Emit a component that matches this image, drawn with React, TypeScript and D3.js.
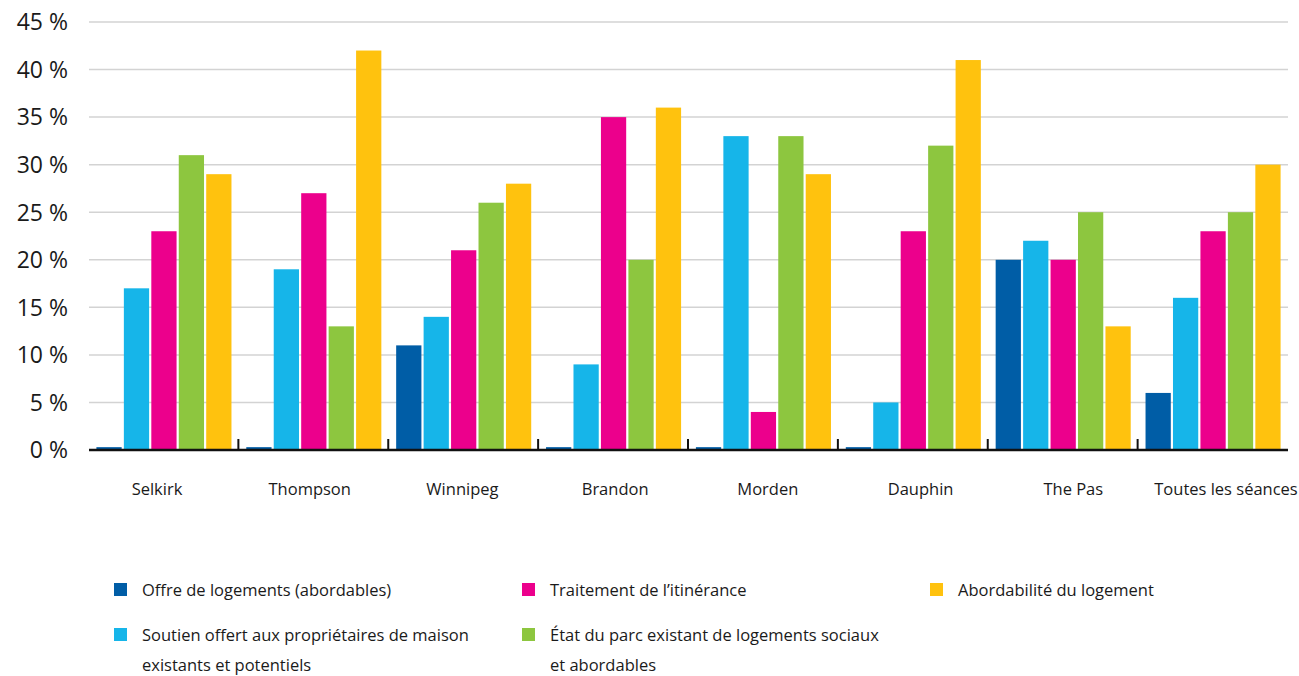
import React from "react";
import * as d3 from "d3";

// Survey results per community: share of mentions for each housing theme (%)
const categories = [
  "Selkirk",
  "Thompson",
  "Winnipeg",
  "Brandon",
  "Morden",
  "Dauphin",
  "The Pas",
  "Toutes les séances",
];

const seriesNames = [
  "Offre de logements (abordables)",
  "Soutien offert aux propriétaires de maison existants et potentiels",
  "Traitement de l’itinérance",
  "État du parc existant de logements sociaux et abordables",
  "Abordabilité du logement",
];

const offre = [0.3, 0.3, 11, 0.3, 0.3, 0.3, 20, 6];
const soutien = [17, 19, 14, 9, 33, 5, 22, 16];
const itinerance = [23, 27, 21, 35, 4, 23, 20, 23];
const etatParc = [31, 13, 26, 20, 33, 32, 25, 25];
const abordabilite = [29, 42, 28, 36, 29, 41, 13, 30];

const seriesValues = [offre, soutien, itinerance, etatParc, abordabilite];
const seriesColors = ["#005da6", "#16b5e9", "#ec008c", "#8dc63f", "#ffc20e"];

const yTicks = [0, 5, 10, 15, 20, 25, 30, 35, 40, 45];

// Legend layout: column/row and wrapped text lines per series
const legendItems = [
  { lines: ["Offre de logements (abordables)"], col: 0, row: 0 },
  { lines: ["Soutien offert aux propriétaires de maison", "existants et potentiels"], col: 0, row: 1 },
  { lines: ["Traitement de l’itinérance"], col: 1, row: 0 },
  { lines: ["État du parc existant de logements sociaux", "et abordables"], col: 1, row: 1 },
  { lines: ["Abordabilité du logement"], col: 2, row: 0 },
];

const W = 1299;
const H = 676;
const margin = { left: 89, right: 11, top: 22, bottom: 226 };
const FONT = "'Open Sans', 'DejaVu Sans', sans-serif";

export default function App() {
  const innerRight = W - margin.right;
  const baseline = H - margin.bottom;

  const x0 = d3
    .scaleBand<string>()
    .domain(categories)
    .range([margin.left, innerRight])
    .paddingInner(0)
    .paddingOuter(0);

  const x1 = d3
    .scaleBand<number>()
    .domain(d3.range(seriesValues.length))
    .range([0, x0.bandwidth()])
    .paddingInner(0.08)
    .paddingOuter(0.27);

  // category labels are spread slightly wider than the bar groups
  const xLabel = d3.scalePoint<string>().domain(categories).range([157, 1226]);

  const y = d3.scaleLinear().domain([0, 45]).range([baseline, margin.top]);

  const legendColX = [114, 522, 930];
  const legendRowY = [590, 635];

  return (
    <svg
      width={W}
      height={H}
      style={{ position: "absolute", left: 0, top: 0, display: "block", background: "#fff" }}
    >
      {/* horizontal gridlines */}
      {yTicks
        .filter((t) => t > 0)
        .map((t) => (
          <line
            key={`g${t}`}
            x1={margin.left}
            x2={innerRight}
            y1={y(t)}
            y2={y(t)}
            stroke="#d3d3d3"
            strokeWidth={1.5}
          />
        ))}

      {/* y tick labels */}
      {yTicks.map((t) => (
        <text
          key={`yl${t}`}
          x={68}
          y={y(t)}
          dy="0.36em"
          textAnchor="end"
          fontFamily={FONT}
          fontSize={23}
          fill="#1a1a1a"
        >
          {`${t} %`}
        </text>
      ))}

      {/* bars */}
      {categories.map((c, ci) => (
        <g key={c} transform={`translate(${x0(c)},0)`}>
          {seriesValues.map((vals, si) => (
            <rect
              key={si}
              x={x1(si)}
              y={y(vals[ci])}
              width={x1.bandwidth()}
              height={baseline - y(vals[ci])}
              fill={seriesColors[si]}
            />
          ))}
        </g>
      ))}

      {/* baseline axis with separators between groups */}
      <line
        x1={margin.left}
        x2={innerRight}
        y1={baseline}
        y2={baseline}
        stroke="#111"
        strokeWidth={2.5}
      />
      {categories.slice(1).map((c) => (
        <line
          key={`t${c}`}
          x1={x0(c)! - 0.5}
          x2={x0(c)! - 0.5}
          y1={baseline}
          y2={baseline - 11}
          stroke="#111"
          strokeWidth={2}
        />
      ))}

      {/* category labels */}
      {categories.map((c) => (
        <text
          key={`cl${c}`}
          x={xLabel(c)!}
          y={495}
          textAnchor="middle"
          fontFamily={FONT}
          fontSize={16.5}
          fill="#1a1a1a"
        >
          {c}
        </text>
      ))}

      {/* legend */}
      {legendItems.map((item, i) => {
        const lx = legendColX[item.col];
        const ly = legendRowY[item.row];
        return (
          <g key={`lg${i}`}>
            <rect x={lx} y={ly - 7} width={13} height={13} fill={seriesColors[i]} />
            {item.lines.map((ln, li) => (
              <text
                key={li}
                x={lx + 28}
                y={ly + li * 30}
                dy="0.35em"
                fontFamily={FONT}
                fontSize={16.5}
                fill="#1a1a1a"
              >
                {ln}
              </text>
            ))}
          </g>
        );
      })}
    </svg>
  );
}
